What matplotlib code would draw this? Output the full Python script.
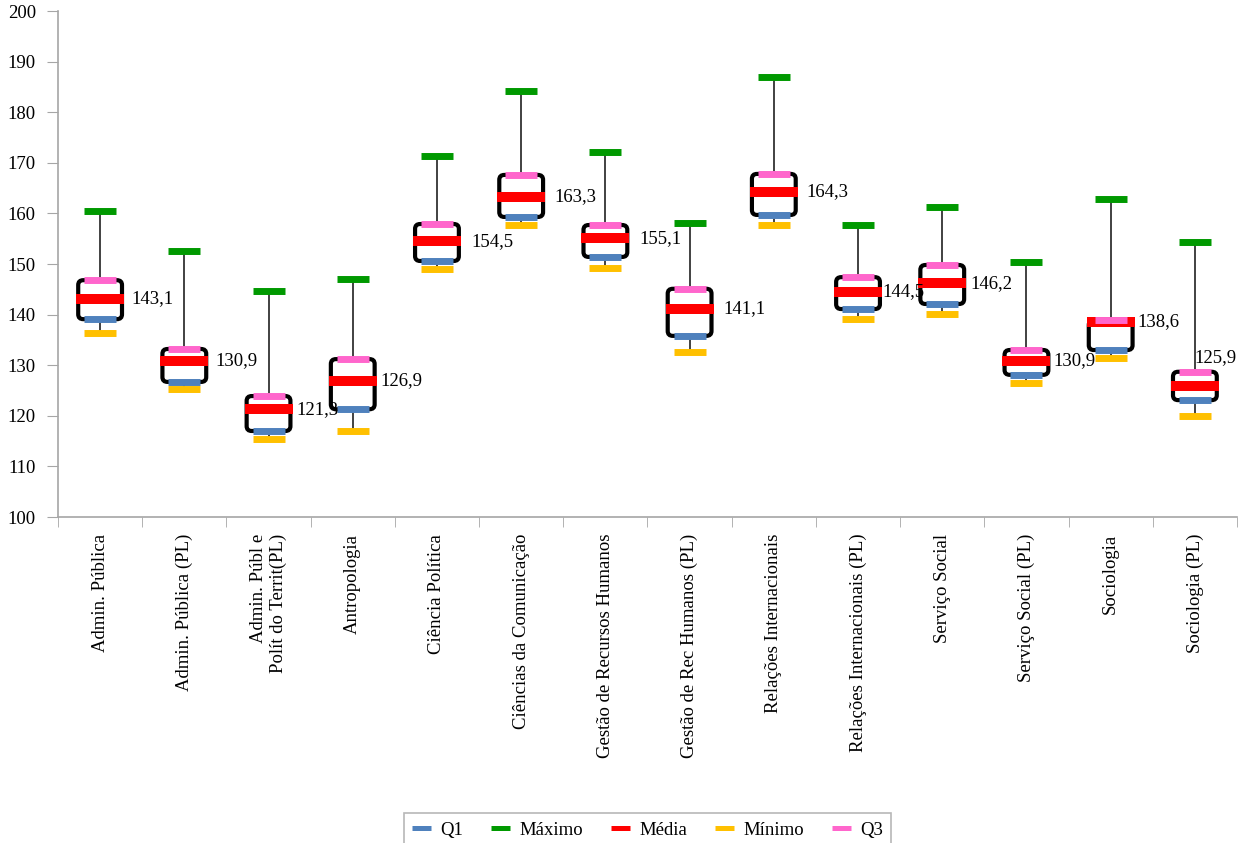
import numpy as np
import matplotlib
matplotlib.use("Agg")
import matplotlib.pyplot as plt
from matplotlib.patches import FancyBboxPatch
from matplotlib.lines import Line2D

plt.rcParams['font.family'] = ['Liberation Serif', 'DejaVu Serif']

cursos = ["Admin. Pública", "Admin. Pública (PL)", "Admin. Públ e\nPolít do Territ(PL)",
          "Antropologia", "Ciência Política", "Ciências da Comunicação",
          "Gestão de Recursos Humanos", "Gestão de Rec Humanos (PL)",
          "Relações Internacionais", "Relações Internacionais (PL)",
          "Serviço Social", "Serviço Social (PL)", "Sociologia", "Sociologia (PL)"]
minimo = [136.4, 125.3, 115.4, 117.0, 149.0, 157.7, 149.2, 132.6, 157.7, 139.1, 140.1, 126.5, 131.4, 120.0]
q1 = [139.1, 126.7, 117.0, 121.3, 150.6, 159.3, 151.4, 135.8, 159.7, 141.1, 142.1, 128.1, 133.0, 123.1]
media = [143.1, 130.9, 121.3, 126.9, 154.5, 163.3, 155.1, 141.1, 164.3, 144.5, 146.2, 130.9, 138.6, 125.9]
q3 = [146.8, 133.2, 123.9, 131.2, 157.9, 167.6, 157.7, 145.1, 167.8, 147.4, 149.8, 133.0, 138.9, 128.7]
maximo = [160.4, 152.6, 144.6, 147.0, 171.3, 184.2, 172.1, 158.1, 186.9, 157.7, 161.3, 150.4, 162.8, 154.4]

# posição dos rótulos da média (em unidades de categoria / eixo y)
label_dx = [0.37, 0.37, 0.33, 0.33, 0.41, 0.39, 0.40, 0.40, 0.39, 0.29, 0.34, 0.32, 0.32, 0.0]
label_dy = [0, 0, 0, 0, 0, 0, 0, 0, 0, 0, 0, 0, 0, 5.7]

series = [('Q1', q1, '#4F81BD'), ('Máximo', maximo, '#009900'), ('Média', media, '#FF0000'),
          ('Mínimo', minimo, '#FFC000'), ('Q3', q3, '#FF66CC')]

fig = plt.figure(figsize=(12.46, 8.43), dpi=100)
ax = fig.add_axes([58 / 1246, 1 - 517 / 843, (1237 - 58) / 1246, (517 - 11) / 843])

x = np.arange(1, len(cursos) + 1)
grey = '#A6A6A6'

# bigodes
ax.vlines(x, minimo, maximo, colors='#333333', lw=1.3, zorder=1)

# caixas Q1-Q3
w = 0.52
for xi, a, b in zip(x, q1, q3):
    box = FancyBboxPatch((xi - w / 2, a), w, b - a,
                         boxstyle="round,pad=0,rounding_size=0.06",
                         mutation_aspect=16, fc='white', ec='black', lw=3, zorder=2)
    ax.add_patch(box)

handles = []
for name, vals, col in series:
    if name == 'Média':
        ms, mew = 34.5, 7.2
    else:
        ms, mew = 23, 5
    ax.plot(x, vals, ls='none', marker='_', ms=ms, mew=mew, color=col, zorder=4)
    handles.append(Line2D([], [], color=col, lw=3.6, solid_capstyle='butt'))

for xi, m, dx, dy in zip(x, media, label_dx, label_dy):
    ax.text(xi + dx, m + dy, f"{m:.1f}".replace('.', ','), fontsize=13.5,
            ha='left', va='center', zorder=6)

ax.set_xlim(0.5, len(cursos) + 0.5)
ax.set_ylim(100, 200)
ax.set_yticks(np.arange(100, 201, 10))
ax.set_xticks(x)
ax.set_xticklabels(cursos, rotation=90, ha='center', va='top', multialignment='right')
ax.set_xticks(np.arange(0.5, len(cursos) + 1, 1), minor=True)
ax.tick_params(axis='x', which='major', length=0, pad=12, labelsize=13.5)
ax.tick_params(axis='x', which='minor', length=7, color=grey)
ax.tick_params(axis='y', length=8, color=grey, pad=8, labelsize=13.5)

for s in ['top', 'right']:
    ax.spines[s].set_visible(False)
for s in ['left', 'bottom']:
    ax.spines[s].set_color(grey)
    ax.spines[s].set_linewidth(1.2)

leg = fig.legend(handles, [s[0] for s in series], loc='upper center', ncol=5,
                 bbox_to_anchor=(647.5 / 1246, 1 - 813 / 843), borderaxespad=0,
                 fontsize=13.5, frameon=True, fancybox=False, edgecolor=grey,
                 handlelength=1.0, handletextpad=0.5, columnspacing=1.5,
                 borderpad=0.45)
leg.get_frame().set_linewidth(1.2)

fig.savefig("out.png", dpi=100)
